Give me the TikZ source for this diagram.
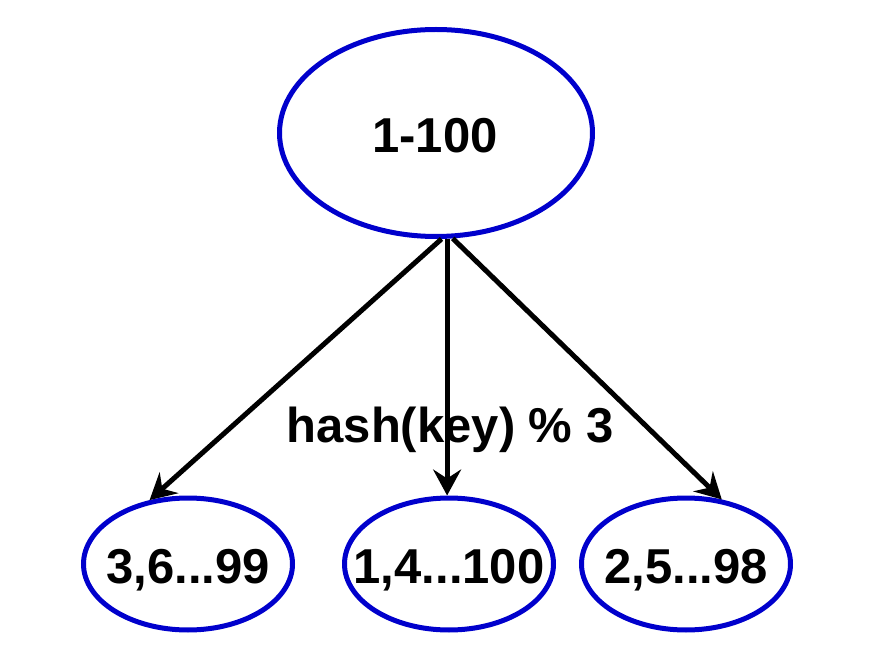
\documentclass[tikz,border=0pt]{standalone}
\usepackage{fontspec}
\setmainfont{Liberation Sans}
\usetikzlibrary{arrows.meta,shapes.geometric}
\definecolor{ellblue}{HTML}{0000CC}
\tikzset{
  ell/.style={draw=ellblue, line width=5pt, ellipse, inner sep=0pt},
  bigell/.style={ell, minimum width=313pt, minimum height=207pt},
  smallell/.style={ell, minimum width=209pt, minimum height=132pt},
  lbl/.style={font=\fontsize{49}{58}\selectfont\bfseries, inner sep=0pt, anchor=base},
  arr/.style={line width=5pt, -{Stealth[length=26pt, width=28pt, inset=9pt]}}
}
\begin{document}
\begin{tikzpicture}[x=1pt,y=-1pt]
\useasboundingbox (0,0) rectangle (884,663);
\node[bigell] (top) at (436,133) {};
\node[smallell] (l) at (188,564) {};
\node[smallell] (m) at (449,564) {};
\node[smallell] (r) at (686,564) {};
\node[lbl] (ttop) at (435,153) {1-100};
\node[lbl] (tl) at (188,583) {3,6...99};
\node[lbl] (tm) at (449,583) {1,4...100};
\node[lbl] (tr) at (686,583) {2,5...98};
\node[lbl] (hash) at (450,442) {hash(key) \% 3};
\draw[arr] (top.-87) -- (l.121);
\draw[arr] (top.-84) -- (top.-84 |- m.north);
\draw[arr] (top.-81) -- (r.61);
\end{tikzpicture}
\end{document}
